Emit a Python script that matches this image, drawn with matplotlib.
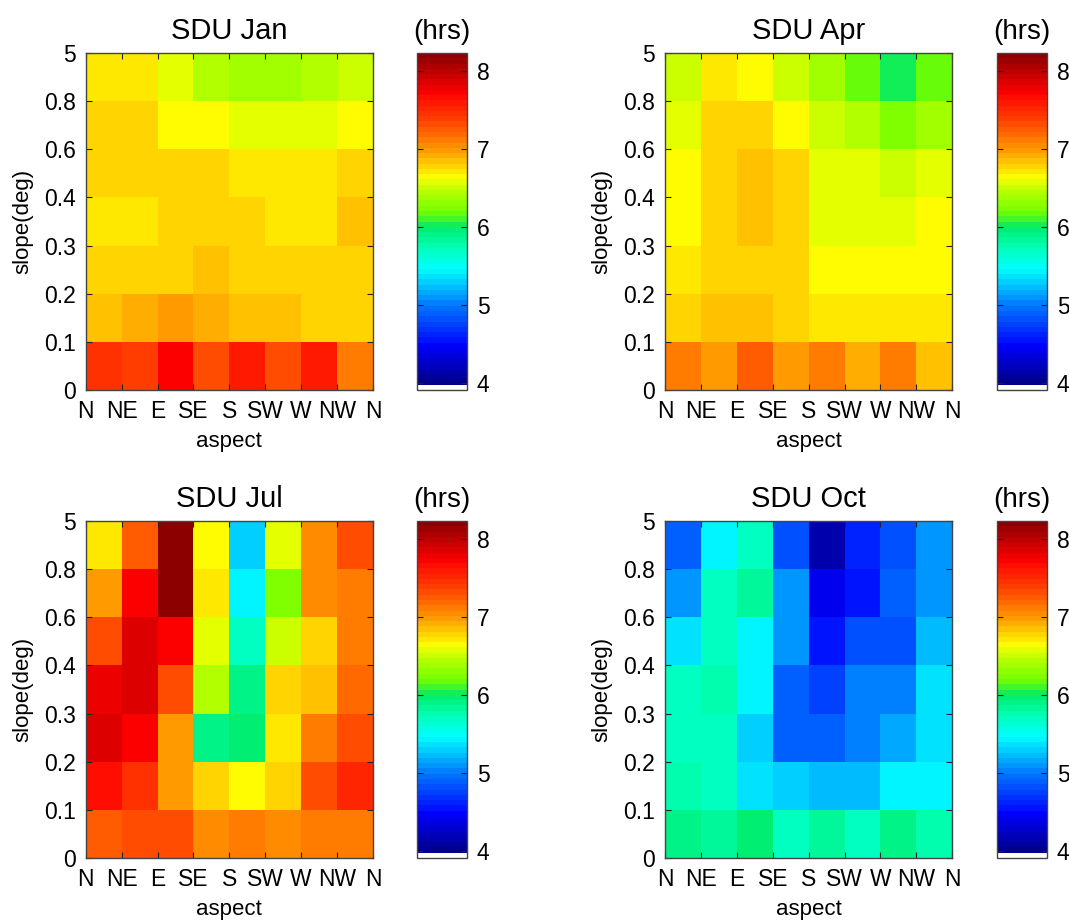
import numpy as np
import matplotlib
matplotlib.use('Agg')
import matplotlib.pyplot as plt
from matplotlib.colors import LinearSegmentedColormap, ListedColormap, Normalize

plt.rcParams['font.family'] = ['Liberation Sans', 'DejaVu Sans']

aspect_labels = ['N', 'NE', 'E', 'SE', 'S', 'SW', 'W', 'NW', 'N']
slope_labels = ['0', '0.1', '0.2', '0.3', '0.4', '0.6', '0.8', '5']

# rows: slope bins from bottom (0-0.1) to top (0.8-5); columns: N NE E SE S SW W NW
sdu_jan = [
    [7.45, 7.42, 7.72, 7.30, 7.57, 7.30, 7.60, 7.15],
    [6.86, 6.90, 6.95, 6.89, 6.86, 6.86, 6.80, 6.80],
    [6.76, 6.76, 6.77, 6.84, 6.76, 6.76, 6.76, 6.76],
    [6.70, 6.74, 6.79, 6.79, 6.76, 6.69, 6.74, 6.84],
    [6.76, 6.76, 6.76, 6.76, 6.72, 6.70, 6.70, 6.80],
    [6.76, 6.76, 6.67, 6.67, 6.60, 6.60, 6.60, 6.64],
    [6.68, 6.72, 6.55, 6.41, 6.35, 6.35, 6.41, 6.48],
]
sdu_apr = [
    [7.13, 7.00, 7.22, 6.95, 7.13, 6.93, 7.13, 6.84],
    [6.77, 6.82, 6.82, 6.79, 6.70, 6.70, 6.70, 6.70],
    [6.74, 6.79, 6.79, 6.77, 6.67, 6.67, 6.67, 6.67],
    [6.67, 6.77, 6.82, 6.76, 6.57, 6.57, 6.57, 6.67],
    [6.67, 6.77, 6.82, 6.76, 6.58, 6.58, 6.52, 6.58],
    [6.60, 6.80, 6.80, 6.67, 6.52, 6.44, 6.24, 6.35],
    [6.52, 6.74, 6.67, 6.52, 6.35, 6.14, 6.03, 6.20],
]
sdu_jul = [
    [7.24, 7.33, 7.30, 7.05, 7.13, 7.05, 7.13, 7.13],
    [7.67, 7.45, 7.00, 6.80, 6.65, 6.76, 7.30, 7.50],
    [7.85, 7.72, 7.00, 5.90, 5.97, 6.72, 7.13, 7.33],
    [7.77, 7.85, 7.33, 6.44, 5.88, 6.80, 6.87, 7.20],
    [7.30, 7.85, 7.70, 6.60, 5.68, 6.50, 6.77, 7.10],
    [6.95, 7.75, 8.20, 6.74, 5.45, 6.25, 7.05, 7.13],
    [6.68, 7.24, 8.20, 6.67, 5.28, 6.58, 7.02, 7.33],
]
sdu_oct = [
    [5.90, 5.85, 5.95, 5.73, 5.87, 5.73, 5.92, 5.80],
    [5.75, 5.73, 5.37, 5.32, 5.25, 5.25, 5.40, 5.43],
    [5.70, 5.70, 5.32, 4.90, 4.90, 5.00, 5.15, 5.35],
    [5.68, 5.75, 5.43, 4.90, 4.75, 5.00, 5.00, 5.35],
    [5.35, 5.73, 5.43, 5.08, 4.55, 4.85, 4.85, 5.25],
    [5.12, 5.70, 5.82, 5.08, 4.43, 4.55, 4.90, 5.08],
    [4.90, 5.42, 5.70, 4.80, 4.15, 4.60, 4.85, 5.08],
]

vmin, vmax = 3.915, 8.23
anchors = [
    (3.98, (0.0, 0.0, 0.55)),
    (4.45, (0.0, 0.0, 1.0)),
    (5.00, (0.0, 0.5, 1.0)),
    (5.45, (0.0, 1.0, 1.0)),
    (5.75, (0.0, 1.0, 0.7)),
    (6.00, (0.0, 0.92, 0.4)),
    (6.20, (0.45, 1.0, 0.0)),
    (6.45, (0.7, 1.0, 0.0)),
    (6.65, (1.0, 1.0, 0.0)),
    (7.00, (1.0, 0.6, 0.0)),
    (7.40, (1.0, 0.25, 0.0)),
    (7.75, (1.0, 0.0, 0.0)),
    (8.23, (0.55, 0.0, 0.0)),
]
pos = [(v - 3.98) / (vmax - 3.98) for v, _ in anchors]
base = LinearSegmentedColormap.from_list('sdu', list(zip(pos, [c for _, c in anchors])))
cols = base(np.linspace(0, 1, 63))
cols = np.vstack([[1, 1, 1, 1], cols])
cmap = ListedColormap(cols)
norm = Normalize(vmin=vmin, vmax=vmax)

fig = plt.figure(figsize=(10.69, 9.23), dpi=100)

W, H = 1069, 923
panels = [
    ('SDU Jan', sdu_jan, 85.7, 53, 417),
    ('SDU Apr', sdu_apr, 665, 53, 997),
    ('SDU Jul', sdu_jul, 85.7, 521, 417),
    ('SDU Oct', sdu_oct, 665, 521, 997),
]
frame = '#444444'
for title, data, x0, y0, cx in panels:
    ax = fig.add_axes([x0 / W, 1 - (y0 + 337) / H, 287.3 / W, 337 / H])
    arr = np.array(data)
    m = ax.pcolormesh(np.arange(9), np.arange(8), arr, cmap=cmap, norm=norm)
    ax.set_xlim(0, 8)
    ax.set_ylim(0, 7)
    ax.set_xticks(np.arange(9))
    ax.set_xticklabels(aspect_labels)
    ax.set_yticks(np.arange(8))
    ax.set_yticklabels(slope_labels)
    ax.tick_params(direction='in', top=True, right=True, length=4, width=0.8,
                   labelsize=16.5, color='#222222', pad=7)
    for s in ax.spines.values():
        s.set_color(frame)
        s.set_linewidth(1.0)
    ax.set_title(title, fontsize=21, pad=10)
    ax.set_xlabel('aspect', fontsize=16, labelpad=6)
    ax.set_ylabel('slope(deg)', fontsize=16, labelpad=8)

    cax = fig.add_axes([cx / W, 1 - (y0 + 337) / H, 50 / W, 337 / H])
    cb = fig.colorbar(m, cax=cax, ticks=[4, 5, 6, 7, 8])
    cb.outline.set_edgecolor(frame)
    cb.outline.set_linewidth(1.0)
    cax.tick_params(direction='in', left=True, right=True, length=4, width=0.8,
                    labelsize=16.5, color='#222222', pad=7)
    cax.set_title('(hrs)', fontsize=20, pad=10)

plt.savefig('out.png', dpi=100)
